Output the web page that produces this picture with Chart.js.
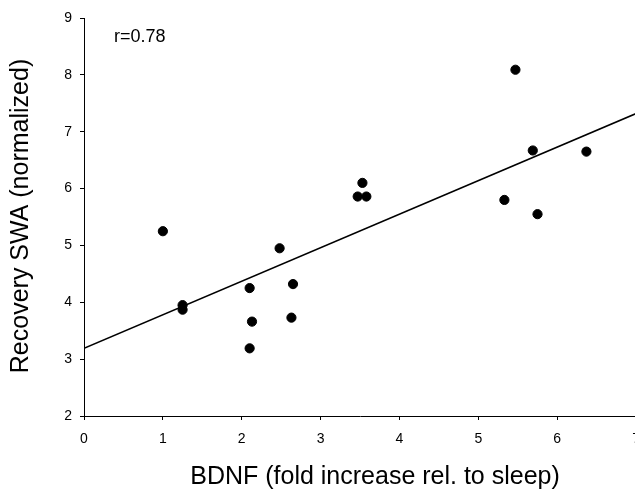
<!DOCTYPE html>
<html>
<head>
<meta charset="utf-8">
<script src="https://cdn.jsdelivr.net/npm/chart.js@4.4.1/dist/chart.umd.min.js"></script>
<style>
  html, body { margin: 0; padding: 0; background: #fff; overflow: hidden; }
  #wrap { width: 651px; height: 491px; }
</style>
</head>
<body>
<div id="wrap"><canvas id="c" width="651" height="491"></canvas></div>
<script>
// BDNF fold increase (relative to sleep) per animal
const bdnf = [1.00, 1.25, 1.25, 2.10, 2.13, 2.10, 2.48, 2.65, 2.63, 3.53, 3.47, 3.58, 5.47, 5.69, 6.37, 5.33, 5.75];
// Recovery slow-wave activity (normalized) per animal
const swa  = [5.25, 3.95, 3.87, 4.25, 3.66, 3.19, 4.95, 4.32, 3.73, 6.10, 5.86, 5.86, 8.09, 6.67, 6.65, 5.80, 5.55];
// Fitted line end points
const fitX = [0, 7];
const fitY = [3.19, 7.32];
// Axis ticks
const xTicks = [0, 1, 2, 3, 4, 5, 6, 7];
const yTicks = [2, 3, 4, 5, 6, 7, 8, 9];
const corrLabel = 'r=0.78';
const xTitle = 'BDNF (fold increase rel. to sleep)';
const yTitle = 'Recovery SWA (normalized)';

const FONT = '"Liberation Sans", Arial, Helvetica, sans-serif';

const points = bdnf.map((x, i) => ({ x: x, y: swa[i] }));
const fitLine = fitX.map((x, i) => ({ x: x, y: fitY[i] }));

// Axis titles and the correlation note
const textPlugin = {
  id: 'annotText',
  afterDraw(chart) {
    const ctx = chart.ctx;
    const xs = chart.scales.x, ys = chart.scales.y;
    ctx.save();
    ctx.fillStyle = '#000';
    ctx.font = '25px ' + FONT;
    ctx.textAlign = 'center';
    ctx.textBaseline = 'middle';
    ctx.fillText(xTitle, 375, 477);
    ctx.translate(21, 216);
    ctx.rotate(-Math.PI / 2);
    ctx.fillText(yTitle, 0, 0);
    ctx.restore();
    ctx.save();
    ctx.fillStyle = '#000';
    ctx.font = '18px ' + FONT;
    ctx.textAlign = 'left';
    ctx.textBaseline = 'middle';
    ctx.fillText(corrLabel, xs.getPixelForValue(0.38), ys.getPixelForValue(8.67));
    ctx.restore();
  }
};

new Chart(document.getElementById('c'), {
  type: 'scatter',
  data: {
    datasets: [
      {
        label: 'animals',
        data: points,
        backgroundColor: '#000',
        borderColor: '#000',
        pointRadius: 4.6,
        borderWidth: 1,
        pointHoverRadius: 4.6
      },
      {
        label: 'fit',
        data: fitLine,
        showLine: true,
        borderColor: '#000',
        borderWidth: 1.5,
        pointRadius: 0,
        fill: false
      }
    ]
  },
  options: {
    responsive: false,
    animation: false,
    devicePixelRatio: 1,
    layout: { padding: { left: 0, top: 18, right: 9, bottom: 0 } },
    plugins: { legend: { display: false }, tooltip: { enabled: false } },
    scales: {
      x: {
        type: 'linear',
        min: 0, max: 7,
        afterBuildTicks(scale) { scale.ticks = xTicks.map(v => ({ value: v })); },
        afterFit(scale) { scale.height = 75; },
        grid: { drawOnChartArea: false, drawTicks: true, tickLength: 4, color: '#000', lineWidth: 1 },
        border: { display: true, color: '#000', width: 1 },
        ticks: { color: '#000', padding: 11, font: { family: FONT, size: 14 }, maxRotation: 0 }
      },
      y: {
        type: 'linear',
        min: 2, max: 9,
        afterBuildTicks(scale) { scale.ticks = yTicks.map(v => ({ value: v })); },
        afterFit(scale) { scale.width = 84; },
        grid: { drawOnChartArea: false, drawTicks: true, tickLength: 4, color: '#000', lineWidth: 1 },
        border: { display: true, color: '#000', width: 1 },
        ticks: { color: '#000', padding: 8, font: { family: FONT, size: 14 } }
      }
    }
  },
  plugins: [textPlugin]
});
</script>
</body>
</html>
